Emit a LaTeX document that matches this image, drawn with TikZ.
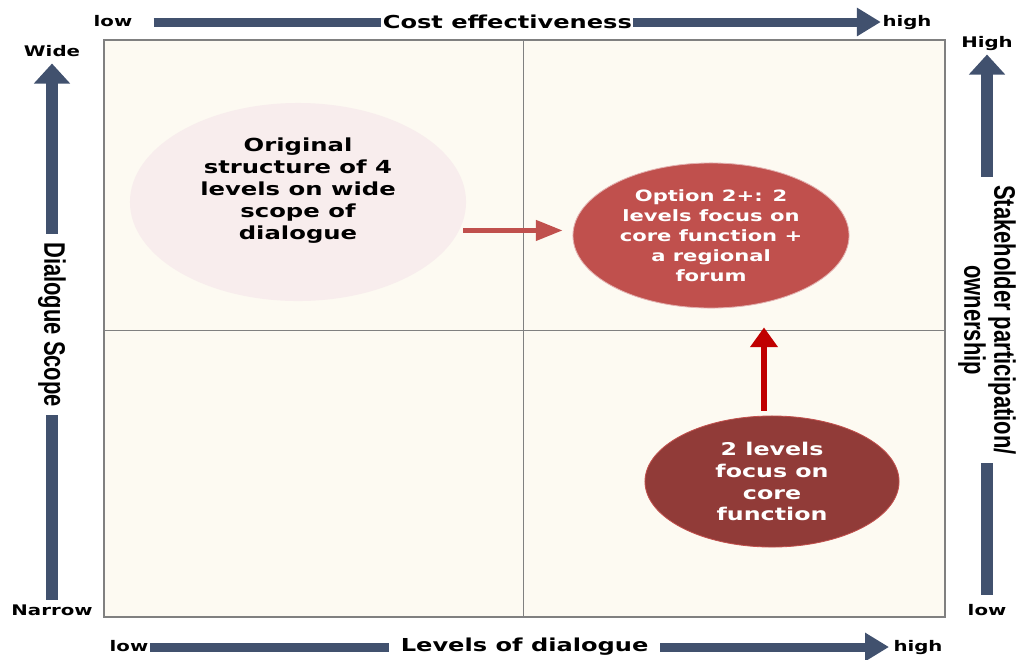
\documentclass[tikz,border=0pt]{standalone}
\usepackage{fontspec}
\setmainfont{DejaVu Sans}[FakeStretch=1.35]
\newfontfamily\sidefont{Liberation Sans}[FakeStretch=0.74]
\usetikzlibrary{arrows.meta, positioning, shapes.geometric}

\definecolor{axisblue}{HTML}{41516E}
\definecolor{plotbg}{HTML}{FDFAF2}
\definecolor{paleoval}{HTML}{F8EDED}
\definecolor{midred}{HTML}{C0504D}
\definecolor{darkred}{HTML}{913B38}
\definecolor{brightred}{HTML}{C00000}

\tikzset{
  ticklabel/.style={font=\bfseries\fontsize{10.4}{12}\selectfont, inner sep=1pt, text height=8pt, text depth=2pt},
  axistitle/.style={font=\bfseries\fontsize{12.7}{15}\selectfont, fill=white, inner xsep=1pt, inner ysep=6pt},
  sidetitle/.style={font=\sidefont\bfseries\fontsize{21.1}{21.3}\selectfont, fill=white, align=center, rotate=-90, inner xsep=5.5pt, inner ysep=2pt},
  flatarrow/.style={draw=axisblue, line width=6.4pt, -{Triangle[length=17pt, width=19.2pt]}},
  tallarrow/.style={draw=axisblue, line width=8.2pt, -{Triangle[length=14.2pt, width=24.9pt]}},
  oval/.style={ellipse, inner sep=0pt, align=center},
}

\begin{document}
\begin{tikzpicture}[x=0.025cm, y=-0.025cm]
\useasboundingbox (0,0) rectangle (1016,659);

% quadrants
\draw[gray, line width=0.8pt, fill=plotbg] (104,40) rectangle (945,617);
\draw[gray, line width=0.6pt] (523,40) -- (523,617);
\draw[gray, line width=0.6pt] (104,330) -- (945,330);

% top and bottom axes
\node[ticklabel] (clow) at (113,22) {low};
\node[ticklabel] (chigh) at (907,22) {high};
\draw[flatarrow, shorten <=13.9pt] (clow.east) -- node[axistitle] {Cost effectiveness} (chigh.west);

\node[ticklabel] (llow) at (129,647) {low};
\node[ticklabel] (lhigh) at (918,647) {high};
\draw[flatarrow, shorten >=2pt] (llow.east) -- node[axistitle, pos=0.505, inner xsep=8.5pt] {Levels of dialogue} (lhigh.west);

% side axes
\node[ticklabel] (wide) at (52,52) {Wide};
\node[ticklabel] (narrow) at (52,611) {Narrow};
\draw[tallarrow, shorten <=1.7pt, shorten >=2pt] (narrow.north) -- node[sidetitle, pos=0.505, xshift=-3pt] {Dialogue Scope} (narrow.north |- wide.south);

\node[ticklabel] (shigh) at (987,43) {High};
\node[ticklabel] (slow) at (987,611) {low};
\draw[tallarrow, shorten <=5.3pt, shorten >=2pt] (slow.north) -- node[sidetitle, pos=0.505, xshift=-3pt] {Stakeholder participation/\\ownership} (shigh.south);

% options
\node[oval, fill=paleoval, minimum width=8.4cm, minimum height=4.95cm, text depth=0.66cm,
  font=\bfseries\fontsize{12.8}{15.6}\selectfont] (orig) at (298,202)
  {Original\\structure of 4\\levels on wide\\scope of\\dialogue};
\node[oval, fill=midred, draw=midred!45, line width=0.6pt, text=white, minimum width=6.9cm, minimum height=3.625cm,
  font=\bfseries\fontsize{11.1}{14.2}\selectfont] (opt) at (711,235.5)
  {Option 2+: 2\\levels focus on\\core function +\\a regional\\forum};
\node[oval, fill=darkred, draw=midred, line width=0.6pt, text=white, minimum width=6.35cm, minimum height=3.275cm,
  font=\bfseries\fontsize{12.5}{15.6}\selectfont] (two) at (772,481.5)
  {2 levels\\focus on\\core\\function};

\draw[midred, line width=3.5pt, -{Triangle[length=19pt, width=14pt]}, shorten <=3pt, shorten >=7pt]
  (orig.-10) -- (orig.-10 -| opt.west);
\draw[brightred, line width=4.3pt, -{Triangle[length=14pt, width=19pt]}]
  ([shift={(-8,-5)}]two.north) -- ([shift={(53,19)}]opt.south);
\end{tikzpicture}
\end{document}
